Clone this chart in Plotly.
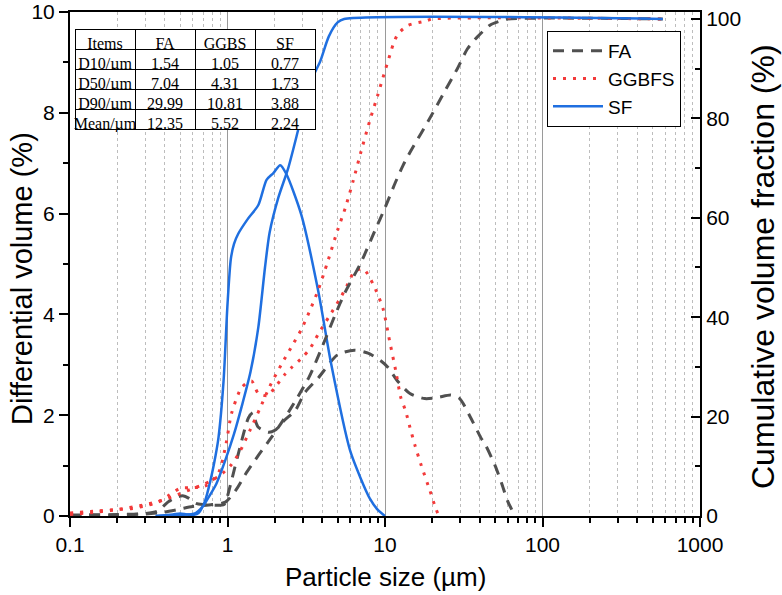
import plotly.graph_objects as go

# ---------------- data ----------------
fa_diff_x = [0.1, 0.2, 0.3, 0.36, 0.42, 0.47, 0.52, 0.57, 0.63, 0.7, 0.95, 0.99, 1.06, 1.2, 1.36, 1.45, 1.5, 1.57,
             1.82, 2.0, 2.3, 2.7, 3.1, 3.77, 5.0, 6.4, 7.8, 9.4, 10.5, 12.0, 14.4, 17.9, 21.5, 26.2, 29.8, 35, 40.5,
             43.6, 50, 55, 60, 67]
fa_diff_y = [0.02, 0.03, 0.05, 0.1, 0.28, 0.37, 0.4, 0.35, 0.25, 0.23, 0.23, 0.35, 0.7, 1.36, 1.95, 2.05, 1.9, 1.76,
             1.66, 1.7, 1.9, 2.1, 2.45, 2.74, 3.2, 3.29, 3.23, 3.08, 2.94, 2.68, 2.43, 2.33, 2.35, 2.4, 2.33, 1.95, 1.56,
             1.4, 1.0, 0.65, 0.3, 0.0]
fa_cum_x = [0.1, 0.2, 0.3, 0.4, 0.5, 0.6, 0.8, 0.97, 1.13, 1.3, 1.57, 1.9, 2.45, 3.3, 4.17, 4.83, 5.58, 7.04, 8.65,
            10, 11.6, 13, 14.6, 18.7, 24.2, 28.8, 33.4, 38.6, 46.6, 54, 60, 580]
fa_cum_y = [0.1, 0.2, 0.4, 0.8, 1.4, 1.9, 2.3, 2.8, 5.2, 8.4, 12.2, 15.8, 21, 28, 35.5, 40.5, 45, 51, 57.5,
            62, 67, 70.5, 73.5, 79.3, 85.7, 90, 94, 96.4, 98.8, 99.6, 100, 100]

gg_diff_x = [0.1, 0.15, 0.2, 0.25, 0.3, 0.36, 0.42, 0.5, 0.6, 0.74, 0.88, 0.98, 1.06, 1.23, 1.42, 1.57, 1.8, 2.0,
             2.3, 2.54, 3.0, 3.35, 3.77, 4.4, 5.2, 5.8, 6.4, 7.3, 8.4, 9.7, 10.7, 11.7, 12.6, 13.5, 14.4, 15.5, 17,
             19.3, 21, 22]
gg_diff_y = [0.06, 0.1, 0.13, 0.15, 0.2, 0.27, 0.4, 0.55, 0.56, 0.61, 0.87, 1.44, 2.03, 2.55, 2.68, 2.43, 2.39, 2.55,
             2.8, 2.94, 3.15, 3.33, 3.61, 3.95, 4.32, 4.6, 4.85, 4.9, 4.6, 4.12, 3.47, 2.88, 2.35, 2.09, 1.76, 1.4, 1.0,
             0.5, 0.15, 0.0]
gg_cum_x = [0.1, 0.15, 0.2, 0.3, 0.4, 0.5, 0.6, 0.7, 0.8, 0.9, 1.05, 1.2, 1.4, 1.6, 1.85, 2.2, 2.6, 2.94, 3.3, 3.77,
            4.31, 5.0, 5.6, 6.3, 7.0, 8.0, 9.0, 9.6, 10.8, 11.3, 12.1, 14, 18.2, 20, 580]
gg_cum_y = [0.3, 0.8, 1.3, 2.3, 3.3, 4.5, 5.5, 6.3, 7.2, 8.2, 10.2, 13, 17.5, 21.5, 26, 30.5, 34.5, 37.5, 41, 45.5,
            51, 57.5, 62, 67.6, 73, 79.5, 84.7, 87.7, 93, 95, 97, 98.7, 99.6, 100, 100]

sf_diff_x = [0.35, 0.45, 0.5, 0.55, 0.6, 0.655, 0.72, 0.78, 0.84, 0.877, 0.944, 1.0, 1.05, 1.1, 1.17, 1.35, 1.57,
             1.77, 1.95, 2.16, 2.36, 2.94, 3.77, 4.55, 6.0, 7.0, 8.0, 9.0, 10.0]
sf_diff_y = [0.0, 0.03, 0.05, 0.03, 0.02, 0.06, 0.3, 0.71, 1.2, 1.56, 2.68, 4.2, 5.1, 5.4, 5.6, 5.9, 6.17,
             6.67, 6.8, 6.96, 6.79, 5.98, 4.46, 3.02, 1.3, 0.75, 0.35, 0.12, 0.0]
sf_cum_x = [0.35, 0.5, 0.627, 0.7, 0.76, 0.85, 0.97, 1.1, 1.23, 1.4, 1.57, 1.73, 1.85, 2.1, 2.43, 2.8, 3.12, 3.5,
            3.88, 4.4, 5.0, 5.5, 580]
sf_cum_y = [0.0, 0.2, 0.6, 2.0, 3.8, 6.5, 11.3, 16.5, 22, 29, 38, 50, 57, 64, 70, 77.5, 83.5, 88.5,
            91.5, 96.5, 99.3, 100, 100]

table_header = ["Items", "FA", "GGBS", "SF"]
table_items = ["D10/µm", "D50/µm", "D90/µm", "Mean/µm"]
table_fa = ["1.54", "7.04", "29.99", "12.35"]
table_ggbs = ["1.05", "4.31", "10.81", "5.52"]
table_sf = ["0.77", "1.73", "3.88", "2.24"]

x_tick_vals = [0.1, 1, 10, 100, 1000]
x_tick_text = ["0.1", "1", "10", "100", "1000"]
x_minor_vals = [m * d for d in (0.1, 1, 10, 100) for m in range(2, 10)]
y_tick_vals = [0, 2, 4, 6, 8, 10]
y2_tick_vals = [0, 20, 40, 60, 80, 100]

# ---------------- style ----------------
FONT = "Liberation Sans, Arial, sans-serif"
C_FA = "#505050"
C_GG = "#f23a3a"
C_SF = "#1f6fe0"
PH = 504  # plot height in px (t=12, b=79)

fig = go.Figure()

fig.add_trace(go.Scatter(x=fa_diff_x, y=fa_diff_y, name="FA", legendgroup="FA", mode="lines",
                         line=dict(color=C_FA, width=3, dash="11px,8px", shape="spline", smoothing=0.7)))
fig.add_trace(go.Scatter(x=fa_cum_x, y=fa_cum_y, name="FA", legendgroup="FA", showlegend=False, yaxis="y2",
                         mode="lines",
                         line=dict(color=C_FA, width=3, dash="11px,8px", shape="spline", smoothing=0.7)))
fig.add_trace(go.Scatter(x=gg_diff_x, y=gg_diff_y, name="GGBFS", legendgroup="GG", mode="lines",
                         line=dict(color=C_GG, width=3, dash="3px,7px", shape="spline", smoothing=0.7)))
fig.add_trace(go.Scatter(x=gg_cum_x, y=gg_cum_y, name="GGBFS", legendgroup="GG", showlegend=False, yaxis="y2",
                         mode="lines",
                         line=dict(color=C_GG, width=3, dash="3px,7px", shape="spline", smoothing=0.7)))
fig.add_trace(go.Scatter(x=sf_diff_x, y=sf_diff_y, name="SF", legendgroup="SF", mode="lines",
                         line=dict(color=C_SF, width=2.5, shape="spline", smoothing=0.7)))
fig.add_trace(go.Scatter(x=sf_cum_x, y=sf_cum_y, name="SF", legendgroup="SF", showlegend=False, yaxis="y2",
                         mode="lines",
                         line=dict(color=C_SF, width=2.5, shape="spline", smoothing=0.7)))

tfont = dict(family="Liberation Serif, Times New Roman, serif", size=16, color="black")
fig.add_trace(go.Table(
    domain=dict(x=[5 / 630, 246 / 630], y=[1 - 120 / PH, 1 - 17 / PH]),
    columnwidth=[1, 1, 1, 1],
    header=dict(values=table_header, height=20, align="center", fill_color="white",
                line=dict(color="black", width=1), font=tfont),
    cells=dict(values=[table_items, table_fa, table_ggbs, table_sf], height=20, align="center",
               fill_color="white", line=dict(color="black", width=1), font=tfont),
))

fig.update_layout(
    width=782, height=595,
    margin=dict(l=70, r=82, t=12, b=79, autoexpand=False),
    paper_bgcolor="white", plot_bgcolor="white",
    font=dict(family=FONT, color="black"),
    showlegend=True,
    legend=dict(x=(547 - 70) / 630, y=1 - 19 / PH, xanchor="left", yanchor="top",
                bordercolor="black", borderwidth=1, bgcolor="white", itemwidth=50,
                font=dict(family=FONT, size=19, color="black"), tracegroupgap=0),
    xaxis=dict(type="log", range=[-1, 3], tickmode="array", tickvals=x_tick_vals, ticktext=x_tick_text,
               ticks="outside", ticklen=9, tickwidth=2, tickcolor="black", automargin=False,
               showline=True, linecolor="black", linewidth=2, mirror=True,
               showgrid=True, gridcolor="#9a9a9a", gridwidth=1,
               minor=dict(tickmode="array", tickvals=x_minor_vals, ticks="outside", ticklen=5, tickwidth=1.5,
                          tickcolor="black", showgrid=True, gridcolor="#bdbdbd", griddash="dot", gridwidth=1),
               tickfont=dict(family=FONT, size=21)),
    yaxis=dict(range=[0, 10.0001], tickmode="array", tickvals=y_tick_vals, automargin=False,
               ticks="outside", ticklen=9, tickwidth=2, tickcolor="black", ticklabeloverflow="allow",
               showline=True, linecolor="black", linewidth=2, showgrid=False, zeroline=False,
               minor=dict(tickmode="array", tickvals=[1, 3, 5, 7, 9], ticks="outside", ticklen=5,
                          tickwidth=1.5, tickcolor="black", showgrid=False),
               tickfont=dict(family=FONT, size=21)),
    yaxis2=dict(range=[0, 101.4], overlaying="y", side="right", tickmode="array", automargin=False,
                tickvals=y2_tick_vals, ticklabeloverflow="allow",
                ticks="inside", ticklen=9, tickwidth=2, tickcolor="black",
                showline=True, linecolor="black", linewidth=2, showgrid=False, zeroline=False,
                minor=dict(tickmode="array", tickvals=[10, 30, 50, 70, 90], ticks="inside", ticklen=5,
                           tickwidth=1.5, tickcolor="black", showgrid=False),
                tickfont=dict(family=FONT, size=21)),
    annotations=[
        dict(text="Particle size (µm)", xref="paper", yref="paper", x=0.5, y=-61 / PH,
             xanchor="center", yanchor="middle", showarrow=False, font=dict(family=FONT, size=26)),
        dict(text="Differential volume (%)", xref="paper", yref="paper", x=(22 - 70) / 630, y=1 - 267 / PH,
             xanchor="center", yanchor="middle", textangle=-90, showarrow=False, font=dict(family=FONT, size=29)),
        dict(text="Cumulative volume fraction (%)", xref="paper", yref="paper", x=(763 - 70) / 630,
             y=1 - 255 / PH, xanchor="center", yanchor="middle", textangle=-90, showarrow=False,
             font=dict(family=FONT, size=32)),
    ],
)

fig.write_html("out.html")
